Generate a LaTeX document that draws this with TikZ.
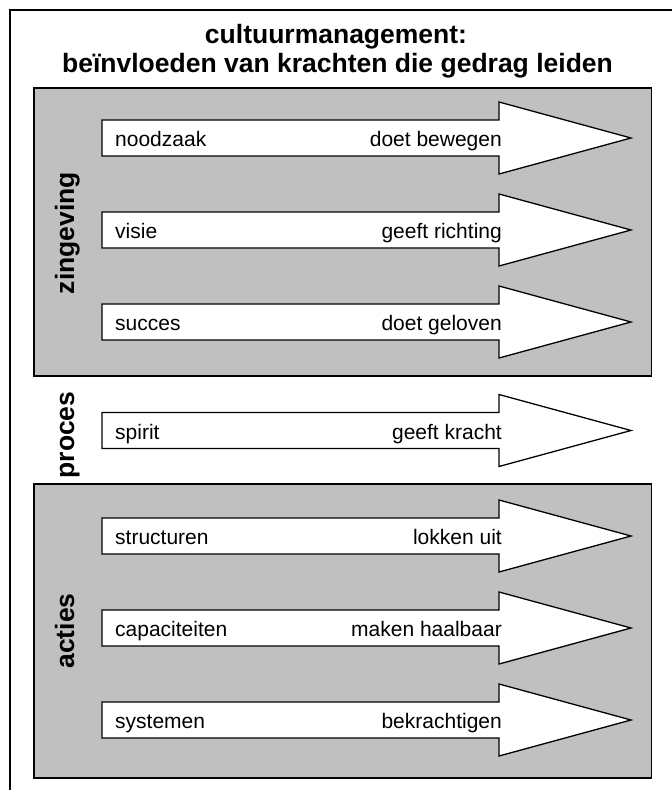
\documentclass[tikz,border=0pt]{standalone}
\usepackage{fontspec}
\setmainfont{Liberation Sans}
\definecolor{boxgray}{HTML}{C0C0C0}
\begin{document}
\begin{tikzpicture}[x=1pt,y=-1pt,
  frameline/.style={draw=black,line width=1.4pt},
  graybox/.style={draw=black,fill=boxgray,line width=1.4pt},
  arrowline/.style={draw=black,fill=white,line width=1.3pt,line join=miter},
  titletext/.style={font=\fontsize{26.5}{30}\selectfont\bfseries,anchor=base,inner sep=0pt},
  sidetext/.style={font=\fontsize{26.5}{30}\selectfont\bfseries,anchor=base,rotate=90,inner sep=0pt},
  lefttext/.style={font=\fontsize{21}{24}\selectfont,anchor=base west,inner sep=0pt},
  righttext/.style={font=\fontsize{21}{24}\selectfont,anchor=base east,inner sep=0pt}]
\useasboundingbox (0,0) rectangle (672,790);
\begin{scope}
\clip (0,0) rectangle (672,790);
\draw[frameline] (10,10) rectangle (720,840);
\end{scope}
\node[titletext] (t1) at (336,43) {cultuurmanagement:};
\node[titletext] (t2) at (337.5,72) {beïnvloeden van krachten die gedrag leiden};
\draw[graybox] (34,88) rectangle (651.5,376);
\draw[graybox] (34,484) rectangle (651.5,778);
\node[sidetext] (zin) at (74,233) {zingeving};
\node[sidetext] (pro) at (74,435) {proces};
\node[sidetext] (act) at (74,631) {acties};
\foreach \c/\l/\r [count=\i] in {138/noodzaak/doet bewegen, 230/visie/geeft richting, 322/succes/doet geloven, 430.5/spirit/geeft kracht, 536/structuren/lokken uit, 628/capaciteiten/maken haalbaar, 720/systemen/bekrachtigen}{
  \draw[arrowline] (102,\c-18) -- (499,\c-18) -- (499,\c-36) -- (631,\c) -- (499,\c+36) -- (499,\c+18) -- (102,\c+18) -- cycle;
  \node[lefttext] (l\i) at (115,\c+8.7) {\l};
  \node[righttext] (r\i) at (502,\c+8.7) {\r};
}
\end{tikzpicture}
\end{document}
